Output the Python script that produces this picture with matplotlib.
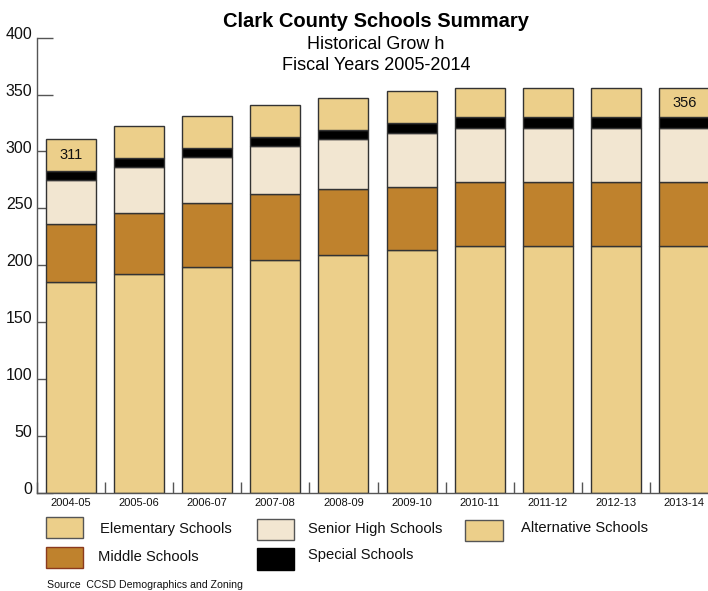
import matplotlib
matplotlib.use("Agg")
import matplotlib.pyplot as plt
from matplotlib.patches import Rectangle
from matplotlib.transforms import ScaledTranslation
import numpy as np

plt.rcParams['font.family'] = ['Liberation Sans', 'DejaVu Sans']

years = ["2004-05", "2005-06", "2006-07", "2007-08", "2008-09",
         "2009-10", "2010-11", "2011-12", "2012-13", "2013-14"]
elementary = [185, 192, 198, 205, 209, 213, 217, 217, 217, 217]
middle = [51, 54, 57, 58, 58, 56, 56, 56, 56, 56]
senior_high = [39, 40, 40, 42, 44, 47, 48, 48, 48, 48]
special = [8, 8, 8, 8, 8, 9, 9, 9, 9, 9]
alternative = [28, 28, 28, 28, 28, 28, 26, 26, 26, 26]

series_names = ["Elementary Schools", "Middle Schools", "Senior High Schools",
                "Special Schools", "Alternative Schools"]
series_vals = [elementary, middle, senior_high, special, alternative]
colors = ["#ECCF8A", "#BF822D", "#F2E6D1", "#000000", "#ECCF8A"]
legend_edges = ["#555555", "#8B3A1E", "#555555", "#000000", "#555555"]

W, H = 708, 591
fig = plt.figure(figsize=(W / 100, H / 100), dpi=100)
ax = fig.add_axes([36.5 / W, 98.3 / H, 682 / W, 455 / H])

x = np.arange(len(years))
bottom = np.zeros(len(years))
for vals, col in zip(series_vals, colors):
    ax.bar(x, vals, width=0.733, bottom=bottom, color=col,
           edgecolor="#333333", linewidth=1.0, zorder=2)
    bottom += np.array(vals)

totals = bottom
for i in (0, len(years) - 1):
    ax.text(x[i], totals[i] - alternative[i] / 2, str(int(totals[i])),
            ha="center", va="center", fontsize=10.5, color="#111111", zorder=3)

ax.set_xlim(-0.5, len(years) - 0.5)
ax.set_ylim(0, 400)
ax.set_yticks(range(0, 401, 50))
ax.set_xticks(x)
ax.set_xticklabels(years)
ax.set_xticks(np.arange(-0.5, len(years), 1.0), minor=True)

for s in ("top", "right"):
    ax.spines[s].set_visible(False)
for s in ("left", "bottom"):
    ax.spines[s].set_color("#555555")
    ax.spines[s].set_linewidth(1.0)

ax.tick_params(axis="y", direction="in", length=11.5, width=1.0,
               color="#555555", pad=3, labelsize=11.5, labelcolor="#111111")
ax.tick_params(axis="x", which="major", length=0, pad=3.5,
               labelsize=8, labelcolor="#111111")
ax.tick_params(axis="x", which="minor", direction="in", length=8,
               width=1.0, color="#555555")
ax.set_axisbelow(True)

offset = ScaledTranslation(0, 3.5 / 72, fig.dpi_scale_trans)
for lab in ax.get_yticklabels():
    lab.set_transform(lab.get_transform() + offset)

fig.text(376 / W, 1 - 26.7 / H, "Clark County Schools Summary",
         ha="center", va="baseline", fontsize=14.5, fontweight="bold")
fig.text(376 / W, 1 - 49.3 / H, "Historical Grow h",
         ha="center", va="baseline", fontsize=13)
fig.text(376 / W, 1 - 70 / H, "Fiscal Years 2005-2014",
         ha="center", va="baseline", fontsize=13)

# legend layout (pixel positions): patch box (x0, y0, x1, y1), text (x, y)
legend_boxes = [(46, 517, 83, 538), (46, 547, 83, 568), (257, 519, 294, 540),
                (257, 548, 294, 570), (465, 520, 503, 541)]
legend_texts = [(100, 528.5), (98, 557), (308, 528.5), (308, 555), (521, 528.5)]
for name, col, ec, (x0, y0, x1, y1), (tx, ty) in zip(
        series_names, colors, legend_edges, legend_boxes, legend_texts):
    fig.patches.append(Rectangle((x0 / W, 1 - y1 / H), (x1 - x0) / W,
                                 (y1 - y0) / H, transform=fig.transFigure,
                                 facecolor=col, edgecolor=ec, linewidth=1.0))
    fig.text(tx / W, 1 - ty / H, name, ha="left", va="center",
             fontsize=10.6, color="#111111")

fig.text(47 / W, 1 - 585 / H, "Source  CCSD Demographics and Zoning",
         ha="left", va="center", fontsize=7.6, color="#111111")

fig.savefig("out.png", dpi=100)
